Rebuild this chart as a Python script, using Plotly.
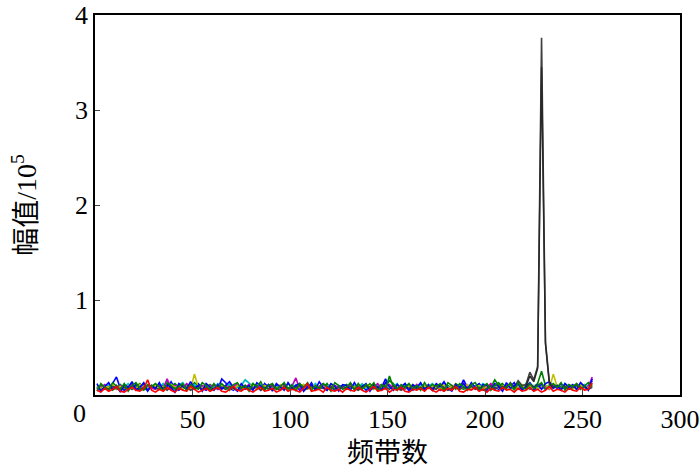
import plotly.graph_objects as go

# band index (every 2nd band, 1..255)
bands = list(range(1, 256, 2))

# amplitudes in units of 1e5
blue = [.08, .05, .10, .06, .12, .19, .07, .05, .09, .06, .11, .08, .13, .06, .09, .07,
        .10, .06, .08, .14, .07, .05, .09, .11, .06, .08, .12, .07, .05, .10, .08, .06,
        .17, .13, .07, .05, .10, .08, .06, .11, .07, .09, .05, .12, .08, .06, .10, .07,
        .11, .06, .08, .10, .05, .09, .07, .13, .06, .08, .11, .07, .09, .05, .10, .08,
        .06, .12, .08, .07, .10, .05, .09, .11, .06, .08, .17, .07, .10, .06, .09, .12,
        .07, .05, .10, .08, .06, .11, .07, .09, .05, .12, .08, .06, .10, .07, .16, .08,
        .06, .09, .12, .07, .05, .10, .08, .06, .11, .07, .09, .13, .06, .08, .10, .07,
        .05, .09, .11, .06, .08, .10, .07, .12, .06, .09, .07, .11, .08, .06, .10, .15]
green = [.07, .10, .06, .09, .05, .08, .11, .07, .10, .06, .09, .12, .07, .05, .10, .08,
         .06, .11, .07, .09, .12, .08, .06, .10, .07, .13, .09, .06, .08, .11, .07, .10,
         .08, .06, .11, .07, .09, .05, .10, .08, .12, .06, .09, .07, .11, .08, .06, .10,
         .07, .12, .08, .06, .10, .09, .07, .11, .05, .09, .08, .12, .06, .10, .07, .09,
         .11, .07, .09, .06, .10, .08, .12, .07, .09, .11, .06, .20, .08, .07, .10, .09,
         .06, .10, .08, .12, .07, .09, .05, .11, .08, .06, .10, .07, .12, .09, .06, .08,
         .10, .07, .09, .06, .11, .08, .16, .10, .12, .06, .09, .08, .11, .07, .10, .06,
         .09, .12, .25, .10, .08, .11, .09, .09, .07, .10, .08, .06, .11, .09, .07, .12]
cyan = [.09, .06, .08, .11, .07, .10, .05, .09, .12, .07, .08, .06, .10, .09, .07, .11,
        .08, .12, .06, .09, .07, .10, .13, .08, .06, .11, .07, .09, .10, .06, .08, .12,
        .07, .09, .11, .06, .08, .10, .16, .12, .09, .06, .11, .08, .07, .10, .09, .06,
        .10, .08, .06, .11, .09, .07, .10, .06, .12, .08, .07, .09, .11, .06, .08, .10,
        .09, .06, .10, .08, .12, .07, .09, .06, .11, .08, .10, .07, .09, .12, .06, .08,
        .11, .08, .07, .10, .06, .09, .12, .08, .07, .10, .09, .06, .08, .11, .07, .09,
        .07, .10, .08, .12, .09, .06, .10, .07, .09, .11, .08, .06, .10, .08, .12, .07,
        .10, .07, .09, .06, .11, .08, .10, .07, .12, .09, .06, .10, .08, .11, .07, .09]
magenta = [.06, .08, .11, .07, .09, .06, .10, .08, .07, .12, .06, .09, .08, .10, .07, .06,
           .11, .07, .17, .06, .10, .08, .07, .12, .09, .06, .08, .10, .07, .09, .11, .06,
           .08, .10, .07, .09, .12, .06, .08, .11, .07, .10, .08, .06, .09, .11, .07, .08,
           .10, .07, .09, .18, .06, .11, .08, .10, .07, .09, .12, .06, .08, .10, .07, .09,
           .07, .11, .06, .09, .08, .10, .07, .09, .12, .06, .08, .11, .07, .10, .08, .06,
           .09, .07, .11, .06, .10, .08, .09, .07, .11, .08, .06, .10, .09, .07, .12, .08,
           .06, .09, .07, .10, .08, .12, .06, .09, .07, .11, .08, .10, .06, .09, .07, .11,
           .08, .10, .07, .09, .06, .11, .08, .07, .10, .09, .07, .12, .08, .06, .09, .19]
olive = [.10, .07, .09, .08, .11, .06, .09, .07, .10, .08, .06, .11, .09, .07, .08, .10,
         .07, .09, .06, .11, .08, .10, .07, .09, .06, .22, .08, .07, .10, .09, .06, .08,
         .11, .07, .09, .06, .10, .08, .07, .09, .11, .06, .08, .10, .07, .09, .06, .11,
         .08, .06, .10, .07, .09, .11, .06, .08, .10, .07, .09, .06, .11, .08, .07, .10,
         .06, .09, .08, .11, .07, .09, .10, .06, .08, .07, .11, .09, .06, .10, .08, .07,
         .09, .11, .06, .08, .10, .07, .09, .08, .06, .11, .07, .09, .10, .06, .08, .11,
         .07, .08, .10, .06, .09, .07, .11, .08, .10, .06, .09, .07, .08, .11, .06, .09,
         .10, .07, .08, .11, .06, .22, .09, .07, .10, .08, .06, .09, .11, .07, .08, .10]
gray = [.07, .05, .08, .06, .09, .07, .05, .08, .06, .10, .07, .05, .08, .06, .09, .07,
        .06, .08, .05, .09, .07, .06, .10, .08, .05, .07, .09, .06, .08, .05, .07, .09,
        .08, .06, .09, .07, .05, .08, .10, .06, .07, .09, .05, .08, .06, .10, .07, .05,
        .09, .07, .06, .08, .10, .05, .07, .09, .06, .08, .07, .05, .09, .06, .08, .10,
        .06, .09, .07, .05, .08, .10, .06, .07, .09, .05, .08, .06, .10, .07, .05, .08,
        .07, .10, .06, .08, .05, .09, .07, .06, .10, .08, .05, .07, .09, .06, .08, .07,
        .09, .06, .08, .05, .07, .10, .06, .08, .09, .07, .13, .08, .15, .10, .11, .24,
        .16, .30, 3.76, .56, .14, .08, .10, .07, .09, .06, .08, .10, .07, .09, .06, .08]
blue2 = [.12, .04, .09, .13, .06, .10, .03, .11, .08, .14, .05, .09, .12, .04, .10, .07,
         .13, .05, .11, .08, .03, .12, .09, .06, .14, .07, .10, .04, .12, .08, .05, .11,
         .06, .10, .14, .08, .04, .12, .07, .10, .05, .13, .09, .06, .11, .04, .12, .08,
         .05, .13, .07, .10, .12, .04, .09, .11, .06, .14, .08, .05, .12, .09, .04, .11,
         .10, .05, .13, .07, .09, .12, .04, .10, .08, .06, .13, .09, .05, .11, .07, .12,
         .04, .11, .08, .13, .06, .10, .05, .12, .09, .14, .07, .04, .11, .08, .12, .06,
         .13, .08, .05, .11, .10, .06, .12, .09, .04, .13, .07, .10, .12, .05, .09, .13,
         .08, .11, .06, .12, .14, .07, .10, .05, .12, .08, .11, .06, .13, .09, .05, .17]
green2 = [.04, .12, .08, .05, .13, .09, .06, .12, .04, .10, .13, .07, .05, .11, .09, .12,
          .08, .05, .13, .10, .06, .09, .12, .04, .11, .08, .06, .13, .10, .05, .12, .07,
          .12, .08, .05, .11, .13, .07, .10, .04, .12, .09, .14, .05, .10, .12, .06, .09,
          .13, .06, .11, .04, .12, .08, .13, .05, .10, .07, .12, .09, .04, .13, .10, .06,
          .08, .13, .05, .12, .06, .11, .08, .13, .04, .10, .09, .15, .12, .05, .11, .08,
          .12, .06, .10, .05, .13, .07, .11, .09, .12, .04, .13, .10, .06, .12, .09, .05,
          .11, .13, .06, .09, .12, .05, .10, .13, .07, .09, .12, .05, .13, .08, .06, .12,
          .07, .10, .13, .06, .09, .12, .08, .13, .05, .11, .09, .12, .06, .10, .13, .09]
red = [.05, .03, .07, .04, .06, .09, .04, .03, .06, .08, .05, .04, .07, .16, .05, .03,
       .06, .04, .08, .05, .03, .07, .05, .04, .09, .06, .03, .05, .07, .04, .06, .08,
       .04, .03, .06, .09, .05, .04, .07, .05, .03, .06, .08, .04, .05, .07, .03, .05,
       .08, .04, .06, .05, .03, .07, .12, .04, .05, .06, .03, .08, .05, .04, .06, .03,
       .07, .05, .04, .08, .05, .03, .06, .09, .04, .05, .07, .03, .06, .05, .08, .04,
       .03, .06, .05, .07, .04, .08, .05, .03, .06, .04, .07, .05, .09, .04, .03, .06,
       .05, .08, .04, .06, .03, .07, .05, .04, .08, .05, .06, .03, .07, .04, .05, .08,
       .04, .06, .03, .05, .09, .04, .06, .05, .03, .07, .05, .04, .08, .05, .06, .13]

# second trace around the peak
peak_bands = [221, 223, 225, 227, 229, 231, 233, 235]
peak_vals = [.09, .20, .14, .28, 3.45, .54, .12, .07]

x_ticks = [50, 100, 150, 200, 250, 300]
y_ticks = [1, 2, 3, 4]

series = [
    (blue, "rgb(0,0,255)"),
    (green, "rgb(0,128,0)"),
    (cyan, "rgb(0,191,191)"),
    (magenta, "rgb(191,0,191)"),
    (olive, "rgb(191,191,0)"),
    (gray, "rgb(64,64,64)"),
    (blue2, "rgb(0,0,255)"),
    (green2, "rgb(0,128,0)"),
]

fig = go.Figure()
for vals, col in series:
    fig.add_trace(go.Scatter(x=bands, y=vals, mode="lines",
                             line=dict(color=col, width=1.6)))
fig.add_trace(go.Scatter(x=peak_bands, y=peak_vals, mode="lines",
                         line=dict(color="rgb(40,40,40)", width=1.5)))
fig.add_trace(go.Scatter(x=bands, y=red, mode="lines",
                         line=dict(color="rgb(255,0,0)", width=1.6)))

serif = "Liberation Serif, Noto Sans CJK SC"
fig.update_layout(
    width=700, height=469,
    margin=dict(l=95, r=20, t=15, b=74),
    paper_bgcolor="white", plot_bgcolor="white",
    showlegend=False,
    font=dict(family=serif, size=26, color="black"),
)
fig.update_xaxes(range=[0, 300], tickvals=x_ticks, ticks="inside", ticklen=5,
                 showline=True, mirror=True, linecolor="black", linewidth=1.5,
                 showgrid=False, zeroline=False, automargin=False,
                 title=dict(text="频带数", font=dict(size=27), standoff=10))
fig.update_yaxes(range=[0, 4], tickvals=y_ticks, ticks="inside", ticklen=5,
                 showline=True, mirror=True, linecolor="black", linewidth=1.5,
                 showgrid=False, zeroline=False, automargin=False,
                 title=dict(text="幅值/10<sup>5</sup>", font=dict(size=28), standoff=30))
fig.add_annotation(text="0", xref="paper", yref="paper", x=0, y=0,
                   xanchor="center", yanchor="middle",
                   xshift=-16, yshift=-18, showarrow=False,
                   font=dict(family=serif, size=26))

# page body has a default 8px margin; drop it so the figure fills the window
fig.write_html("out.html", config={"displayModeBar": False},
               post_script="document.body.style.margin='0';")
